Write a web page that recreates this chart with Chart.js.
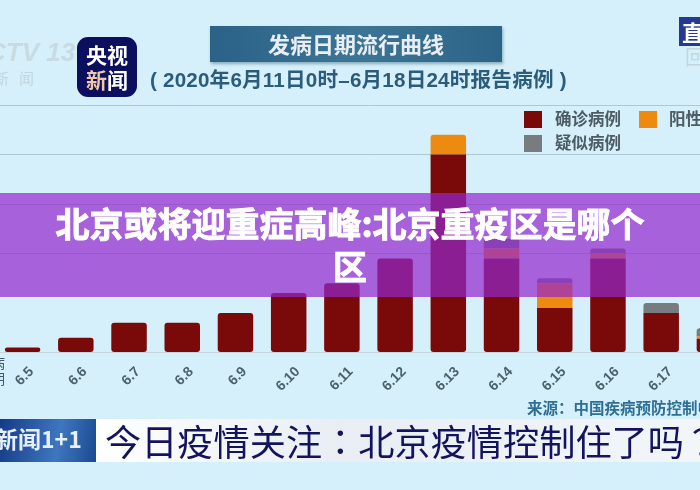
<!DOCTYPE html>
<html><head><meta charset="utf-8">
<script src="https://cdn.jsdelivr.net/npm/chart.js@4"></script>
<style>
html,body{margin:0;padding:0;background:#d4f0fa;}
#stage{position:relative;width:700px;height:490px;overflow:hidden;background:#d5f0fa;font-family:"Noto Sans CJK SC",sans-serif;}
#wrap{position:absolute;left:-20px;top:0;width:761px;height:490px;filter:blur(.5px);}
.t{position:absolute;white-space:nowrap;filter:blur(.5px);}
#band{position:absolute;left:0;top:193px;width:700px;height:104px;background:rgba(148,40,205,.71);}
#h{position:absolute;left:0;top:201px;width:700px;color:#fff;font-weight:700;font-size:34px;line-height:43px;text-align:center;-webkit-text-stroke:.9px #fff;}
</style></head><body>
<div id="stage">
<div id="wrap"><canvas id="c" width="761" height="490"></canvas></div>
<div class="t" style="left:210px;top:26px;width:292px;height:36px;background:linear-gradient(90deg,#2a6288,#3d7596 50%,#2c6488);box-shadow:1px 2px 3px #8ab;color:#e8eef2;font-weight:700;font-size:22px;line-height:35px;text-align:center;">发病日期流行曲线</div>
<div class="t" style="left:150px;top:66px;color:#2b5c7c;font-weight:700;font-size:20.6px;line-height:28px;letter-spacing:.2px;font-family:'Liberation Sans','Noto Sans CJK SC';">( 2020年6月11日0时–6月18日24时报告病例 )</div>
<div class="t" style="left:77px;top:37px;width:60px;height:60px;border-radius:11px;background:#0b0f5e;color:#fff;font-weight:700;font-size:21px;line-height:25px;text-align:center;padding-top:5px;box-sizing:border-box;">央视<br><span style="color:#f0c8a8">新</span>闻</div>
<div class="t" style="left:-13px;top:36px;color:#c8dbe3;font-weight:700;font-style:italic;font-size:26px;line-height:32px;font-family:'Liberation Sans';">CTV 13</div>
<div class="t" style="left:-6px;top:68px;color:#c2d6de;font-size:15px;line-height:20px;">新&nbsp;&nbsp;&nbsp;闻</div>
<div class="t" style="left:679px;top:17px;width:30px;height:29px;background:#233a8e;color:#fff;font-weight:700;font-size:22px;line-height:28px;padding-left:3px;box-sizing:border-box;">直</div>
<div class="t" style="left:685px;top:46px;color:#c2d6de;font-size:20px;line-height:22px;">回</div>
<div class="t" style="left:-23px;top:354px;color:#3f5a68;font-size:14px;line-height:16px;">发病<br>日期</div>
<div class="t" style="left:96px;top:419px;width:604px;height:43px;background:linear-gradient(90deg,#fff,#e8eef4 40%,#f2f6f9);"></div>
<div class="t" style="left:0;top:419px;width:96px;height:43px;background:linear-gradient(100deg,#143a86,#3f76c0 60%,#1a4a90);color:#e6f0fa;font-weight:700;font-size:23px;line-height:38px;"><span style="margin-left:-5px">新闻1+1</span></div>
<div class="t" style="left:105px;top:414px;color:#14145e;font-size:36.2px;line-height:52px;">今日疫情关注<span style="font-family:'Noto Sans CJK TC'">：</span>北京疫情控制住了吗<span style="font-family:'Noto Sans CJK TC'">？</span></div>
<div class="t" style="left:527px;top:397px;color:#2f6f96;font-weight:700;font-size:15.5px;line-height:20px;">来源：中国疾病预防控制中心</div>
<div id="band"></div>
<div id="h">北京或将迎重症高峰:北京重疫区是哪个<br>区</div>
</div>
<script>
const categories=["6.5","6.6","6.7","6.8","6.9","6.10","6.11","6.12","6.13","6.14","6.15","6.16","6.17","6.18"];
const confirmed=[1,3,6,6,8,12,14,19,40,19,9,19,8,2.8];
const positive=[0,0,0,0,0,0,0,0,4,2,5,1,0,0.5];
const suspected=[0,0,0,0,0,0,0,0,0,2,1,1,2,1.6];
const legendNames=["确诊病例","阳性检测","疑似病例"];
const colors=["#7a0a0a","#ef8a10","#777c80"];
const radius=ctx=>{
  const i=ctx.dataIndex,d=ctx.datasetIndex,r={topLeft:0,topRight:0,bottomLeft:0,bottomRight:0};
  if(d===0){r.bottomLeft=r.bottomRight=3;}
  const above=[confirmed,positive,suspected].slice(d+1).some(a=>a[i]>0);
  if(!above){r.topLeft=r.topRight=3;}
  return r;
};
const legendBox={id:'lg',afterDraw(ch){
  const g=ch.ctx,ox=20;
  g.save();g.font='700 16.5px "Noto Sans CJK SC"';g.textBaseline='middle';
  [[524,111,0,555,119],[639,111,1,669,119],[524,135,2,555,143]].forEach(([x,y,k,tx,ty])=>{
    g.fillStyle=colors[k];g.fillRect(x+ox,y,18,17);
    g.fillStyle='#4d5b64';g.fillText(legendNames[k],tx+ox,ty);
  });
  g.restore();
}};
new Chart(document.getElementById('c'),{
  type:'bar',
  data:{labels:categories,datasets:[
    {label:legendNames[0],data:confirmed,backgroundColor:colors[0],borderRadius:radius,borderSkipped:false},
    {label:legendNames[1],data:positive,backgroundColor:colors[1],borderRadius:radius,borderSkipped:false},
    {label:legendNames[2],data:suspected,backgroundColor:colors[2],borderRadius:radius,borderSkipped:false}
  ]},
  options:{
    responsive:false,animation:false,
    layout:{padding:{left:16,right:0,top:105,bottom:0}},
    plugins:{legend:{display:false},tooltip:{enabled:false},title:{display:false}},
    scales:{
      x:{stacked:true,offset:true,
        afterFit(s){s.height=137.5;s.paddingLeft=0;s.paddingRight=0;},
        grid:{display:false},border:{color:'#c4d6de',width:1},
        ticks:{color:'#4a626e',font:{size:14,weight:'700',family:'"Liberation Sans"'},maxRotation:45,minRotation:45,autoSkip:false,padding:3,labelOffset:9}},
      y:{stacked:true,min:0,max:50,afterFit(s){s.width=0;},
        ticks:{display:false,stepSize:10},
        grid:{color:c=>c.tick&&c.tick.value===10?'rgba(0,0,0,0)':'#aec8d3',lineWidth:1,drawTicks:false},border:{display:false}}
    },
    datasets:{bar:{categoryPercentage:.667,barPercentage:1}}
  },
  plugins:[legendBox]
});
</script>
</body></html>
